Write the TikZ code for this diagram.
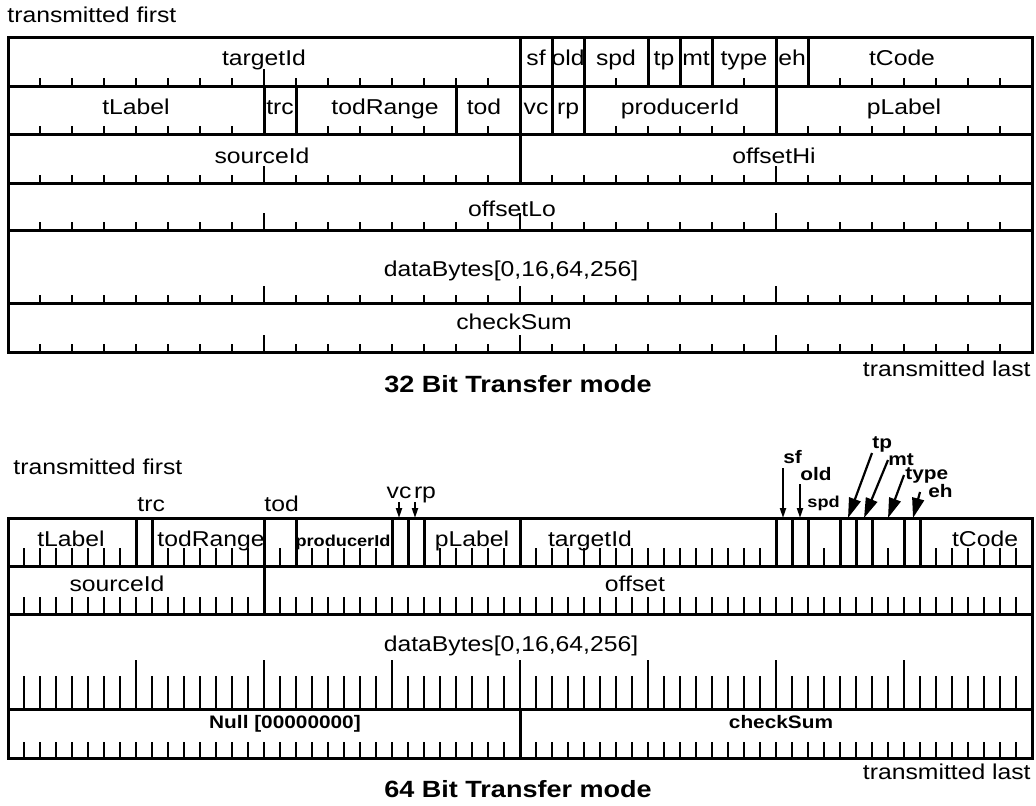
\documentclass[tikz,border=0pt]{standalone}
\usepackage{fontspec}
\setmainfont[FakeStretch=1.15]{Liberation Sans}
\usetikzlibrary{arrows.meta}

\tikzset{
  frame/.style={line width=1.5pt},
  tick/.style={line width=1.2pt},
  lbl/.style={inner sep=0pt, anchor=base, font=\fontsize{10.75}{12}\selectfont},
  blbl/.style={inner sep=0pt, anchor=base, font=\bfseries\fontsize{9.05}{11}\selectfont},
  sblbl/.style={inner sep=0pt, anchor=base, font=\bfseries\fontsize{7.9}{9}\selectfont},
  title/.style={inner sep=0pt, anchor=base, font=\bfseries\fontsize{11.75}{14}\selectfont},
  pointer/.style={line width=1pt, -{Triangle[length=5pt, width=3pt]}},
  bigpointer/.style={line width=1.1pt, -{Triangle[length=10pt, width=6pt]}},
}

\begin{document}
\begin{tikzpicture}[x=0.5pt, y=-0.5pt]
\useasboundingbox (0,0) rectangle (1036,805);

% 32 bit transfer mode
\node[lbl, anchor=base west] (first32) at (7,22) {transmitted first};
\foreach \yb in {86,134,183,230,303,352} {
  \foreach \b in {1,...,31} \draw[tick] ({8+32*\b},\yb) -- ++(0,-8);
  \foreach \b in {8,16,24} \draw[tick] ({8+32*\b},\yb) -- ++(0,-17);
}
\foreach \b in {16,17,18,20,21,22,24,25} \draw[frame] ({8+32*\b},37) -- ({8+32*\b},86);
\foreach \b in {8,9,14,16,17,18,24} \draw[frame] ({8+32*\b},86) -- ({8+32*\b},134);
\draw[frame] (520,134) -- (520,183);
\foreach \y in {86,134,183,230,303} \draw[frame] (8,\y) -- (1032,\y);
\draw[frame] (8,37) rectangle (1032,352);

\foreach \txt/\x in {targetId/264, sf/536, old/568, spd/616, tp/664, mt/696, type/744, eh/792, tCode/902}
  \node[lbl] (\txt32) at (\x,65) {\txt};
\foreach \txt/\x in {tLabel/136, trc/280, todRange/385, tod/484, vc/536, rp/568, producerId/680, pLabel/904}
  \node[lbl] (\txt32) at (\x,114) {\txt};
\node[lbl] (sourceId32) at (262,163) {sourceId};
\node[lbl] (offsetHi32) at (774,163) {offsetHi};
\node[lbl] (offsetLo32) at (512,216) {offsetLo};
\node[lbl] (dataBytes32) at (511,276) {dataBytes[0,16,64,256]};
\node[lbl] (checkSum32) at (514,329) {checkSum};
\node[lbl, anchor=base east] (last32) at (1031,376) {transmitted last};
\node[title] (mode32) at (518,392) {32 Bit Transfer mode};

% 64 bit transfer mode
\node[lbl, anchor=base west] (first64) at (13,474) {transmitted first};
\foreach \yb/\h in {566/18, 614/17, 709/33, 758/16}
  \foreach \b in {1,...,63} \draw[tick] ({8+16*\b},\yb) -- ++(0,-\h);
\foreach \b in {8,16,...,56} \draw[tick] ({8+16*\b},709) -- ++(0,-49);
\foreach \b in {8,9,16,18,24,25,26,32,48,49,50,52,53,54,56,57}
  \draw[frame] ({8+16*\b},518) -- ({8+16*\b},566);
\draw[frame] (264,566) -- (264,614);
\draw[frame] (520,709) -- (520,758);
\foreach \y in {566,614,709} \draw[frame] (8,\y) -- (1032,\y);
\draw[frame] (8,518) rectangle (1032,758);

\foreach \txt/\x in {tLabel/71, todRange/211, pLabel/472, targetId/590, tCode/985}
  \node[lbl] (\txt64) at (\x,546) {\txt};
\node[sblbl] (producerId64) at (343,546) {producerId};
\node[lbl] (sourceId64) at (117,591) {sourceId};
\node[lbl] (offset64) at (635,591) {offset};
\node[lbl] (dataBytes64) at (511,651) {dataBytes[0,16,64,256]};
\node[blbl] (null64) at (285,728) {Null [00000000]};
\node[blbl] (checkSum64) at (781,728) {checkSum};
\node[lbl, anchor=base east] (last64) at (1031,779) {transmitted last};
\node[title] (mode64) at (518,797) {64 Bit Transfer mode};

% flags above the 64 bit header
\node[lbl, anchor=base west] (trc64) at (137,511) {trc};
\node[lbl, anchor=base west] (tod64) at (264,511) {tod};
\node[lbl] (vc64) at (399,498) {vc};
\node[lbl] (rp64) at (425,498) {rp};
\node[blbl, anchor=base west] (sf64) at (783,463) {sf};
\node[blbl, anchor=base west] (old64) at (800,480) {old};
\node[sblbl, anchor=base west] (spd64) at (807,507) {spd};
\node[blbl, anchor=base west] (tp64) at (872,448) {tp};
\node[blbl, anchor=base west] (mt64) at (888,465) {mt};
\node[blbl, anchor=base west] (type64) at (905,479) {type};
\node[blbl, anchor=base west] (eh64) at (928,497) {eh};

\foreach \nm/\xa/\ya in {vc/399/502, rp/415/502, sf/783/468, old/800/484} {
  \coordinate (\nm-a) at (\xa,\ya);
  \coordinate (\nm-b) at (\xa,518);
  \draw[pointer] (\nm-a) -- (\nm-b);
}
\foreach \nm/\xa/\ya/\xb in {tp/872/453/848, mt/888/460/864, type/904/475/888, eh/920/492/913} {
  \coordinate (\nm-a) at (\xa,\ya);
  \coordinate (\nm-b) at (\xb,518);
  \draw[bigpointer] (\nm-a) -- (\nm-b);
}
\end{tikzpicture}
\end{document}
